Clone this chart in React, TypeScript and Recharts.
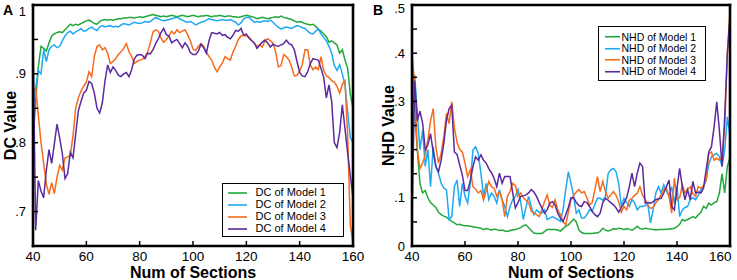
import React from 'react';
import { LineChart, Line, XAxis, YAxis, Legend } from 'recharts';

const FONT = 'Arial, "Liberation Sans", Helvetica, sans-serif';

const SECTIONS = Array.from({ length: 121 }, (_, i) => 40 + i);
const X_TICKS = [40, 60, 80, 100, 120, 140, 160];
const DC_TICKS = [0.7, 0.75, 0.8, 0.85, 0.9, 0.95, 1];
const NHD_TICKS = [0, 0.05, 0.1, 0.15, 0.2, 0.25, 0.3, 0.35, 0.4, 0.45, 0.5];

const DC_NAMES = ['DC of Model 1', 'DC of Model 2', 'DC of Model 3', 'DC of Model 4'];
const NHD_NAMES = ['NHD of Model 1', 'NHD of Model 2', 'NHD of Model 3', 'NHD of Model 4'];
const COLORS = ['#20a83c', '#1eaaf2', '#f76b1c', '#5b2a9e'];

const DC_MODEL1 = [
  0.80, 0.86, 0.91, 0.94, 0.937, 0.933, 0.945, 0.955, 0.958, 0.96,
  0.961, 0.96, 0.964, 0.968, 0.972, 0.97, 0.972, 0.971, 0.973, 0.975,
  0.977, 0.978, 0.976, 0.973, 0.972, 0.976, 0.978, 0.979, 0.978, 0.979,
  0.978, 0.979, 0.98, 0.98, 0.981, 0.981, 0.982, 0.982, 0.981, 0.982,
  0.983, 0.982, 0.983, 0.984, 0.985, 0.986, 0.985, 0.984, 0.983, 0.984,
  0.983, 0.984, 0.985, 0.984, 0.983, 0.984, 0.985, 0.984, 0.983, 0.984,
  0.985, 0.984, 0.983, 0.984, 0.984, 0.985, 0.984, 0.983, 0.984, 0.984,
  0.985, 0.984, 0.983, 0.984, 0.984, 0.983, 0.983, 0.982, 0.983, 0.984,
  0.985, 0.984, 0.983, 0.982, 0.98, 0.981, 0.982, 0.981, 0.98, 0.981,
  0.982, 0.983, 0.982, 0.984, 0.982, 0.981, 0.98, 0.979, 0.977, 0.975,
  0.976, 0.975, 0.973, 0.972, 0.971, 0.972, 0.969, 0.965, 0.962, 0.958,
  0.954, 0.946, 0.948, 0.945, 0.942, 0.93, 0.935, 0.92, 0.908, 0.87,
  0.85,
];
const DC_MODEL2 = [
  0.85, 0.88, 0.905, 0.9, 0.935, 0.918, 0.935, 0.94, 0.942, 0.938,
  0.94, 0.948, 0.955, 0.96, 0.962, 0.958, 0.961, 0.963, 0.966, 0.962,
  0.963, 0.966, 0.968, 0.965, 0.963, 0.968, 0.97, 0.968, 0.969, 0.97,
  0.968, 0.969, 0.968, 0.971, 0.973, 0.972, 0.971, 0.973, 0.975, 0.974,
  0.973, 0.974, 0.976, 0.975, 0.976, 0.979, 0.982, 0.98, 0.978, 0.977,
  0.978, 0.979, 0.98, 0.981, 0.982, 0.98, 0.978, 0.976, 0.975, 0.976,
  0.974, 0.971, 0.973, 0.975, 0.976, 0.978, 0.98, 0.979, 0.978, 0.977,
  0.978, 0.979, 0.978, 0.978, 0.979, 0.977, 0.975, 0.971, 0.974, 0.98,
  0.982, 0.982, 0.978, 0.975, 0.976, 0.975, 0.976, 0.977, 0.976, 0.978,
  0.975, 0.971, 0.968, 0.965, 0.967, 0.968, 0.967, 0.966, 0.968, 0.97,
  0.969, 0.967, 0.966, 0.962, 0.959, 0.958, 0.962, 0.965, 0.958, 0.953,
  0.948, 0.94, 0.93, 0.912, 0.905, 0.913, 0.9, 0.884, 0.845, 0.807,
  0.80,
];
const DC_MODEL3 = [
  0.874, 0.88, 0.84, 0.8, 0.77, 0.74, 0.725, 0.742, 0.726, 0.75,
  0.767, 0.76, 0.778, 0.779, 0.782, 0.81, 0.85, 0.865, 0.875, 0.882,
  0.888, 0.903, 0.896, 0.925, 0.94, 0.942, 0.935, 0.938, 0.93, 0.915,
  0.918, 0.922, 0.928, 0.932, 0.937, 0.944, 0.932, 0.925, 0.915, 0.918,
  0.92, 0.921, 0.925, 0.932, 0.945, 0.961, 0.964, 0.962, 0.952, 0.946,
  0.95, 0.955, 0.962, 0.958, 0.964, 0.96, 0.962, 0.964, 0.957, 0.948,
  0.936, 0.934, 0.94, 0.944, 0.94, 0.932, 0.925, 0.92, 0.91, 0.903,
  0.91, 0.916, 0.925, 0.922, 0.92, 0.932, 0.94, 0.95, 0.955, 0.956,
  0.955, 0.953, 0.949, 0.944, 0.94, 0.942, 0.939, 0.948, 0.951, 0.948,
  0.945, 0.932, 0.91, 0.912, 0.928, 0.925, 0.92, 0.91, 0.897, 0.898,
  0.904, 0.914, 0.935, 0.935, 0.913, 0.906, 0.91, 0.906, 0.925, 0.905,
  0.897, 0.895, 0.89, 0.888, 0.882, 0.872, 0.885, 0.89, 0.81, 0.68,
  0.655,
];
const DC_MODEL4 = [
  0.955, 0.673, 0.745, 0.73, 0.72, 0.76, 0.79, 0.77, 0.798, 0.827,
  0.807, 0.784, 0.748, 0.755, 0.786, 0.778, 0.812, 0.846, 0.86, 0.872,
  0.876, 0.889, 0.886, 0.872, 0.85, 0.843, 0.858, 0.89, 0.913, 0.902,
  0.91, 0.905, 0.898, 0.896, 0.9, 0.902, 0.896, 0.906, 0.922, 0.927,
  0.928, 0.927, 0.922, 0.93, 0.929, 0.935, 0.944, 0.951, 0.96, 0.966,
  0.957, 0.955, 0.945, 0.948, 0.95, 0.944, 0.938, 0.945, 0.94, 0.931,
  0.928, 0.928, 0.933, 0.943, 0.938, 0.93, 0.948, 0.96, 0.959, 0.958,
  0.96, 0.956, 0.957, 0.953, 0.951, 0.956, 0.963, 0.962, 0.966, 0.956,
  0.958, 0.952, 0.948, 0.945, 0.937, 0.942, 0.946, 0.949, 0.945, 0.939,
  0.943, 0.941, 0.94, 0.942, 0.944, 0.949, 0.944, 0.942, 0.935, 0.918,
  0.902, 0.897, 0.896, 0.903, 0.915, 0.922, 0.921, 0.92, 0.908, 0.895,
  0.865, 0.884, 0.86, 0.8, 0.793, 0.815, 0.855, 0.82, 0.785, 0.752,
  0.72,
];

const NHD_MODEL1 = [
  0.40, 0.28, 0.2, 0.13, 0.11, 0.115, 0.1, 0.09, 0.085, 0.08,
  0.07, 0.065, 0.062, 0.06, 0.055, 0.051, 0.048, 0.044, 0.045, 0.043,
  0.042, 0.042, 0.041, 0.04, 0.039, 0.038, 0.037, 0.034, 0.036, 0.035,
  0.033, 0.035, 0.034, 0.032, 0.033, 0.031, 0.03, 0.032, 0.033, 0.034,
  0.036, 0.038, 0.042, 0.044, 0.038, 0.032, 0.027, 0.026, 0.026, 0.026,
  0.03, 0.034, 0.034, 0.034, 0.034, 0.033, 0.031, 0.036, 0.041, 0.044,
  0.05, 0.056, 0.05, 0.033, 0.028, 0.026, 0.026, 0.026, 0.026, 0.027,
  0.027, 0.03, 0.037, 0.033, 0.031, 0.033, 0.036, 0.035, 0.037, 0.036,
  0.034, 0.036, 0.035, 0.033, 0.036, 0.041, 0.036, 0.035, 0.037, 0.036,
  0.035, 0.034, 0.033, 0.034, 0.034, 0.034, 0.035, 0.035, 0.036, 0.037,
  0.04, 0.045, 0.055, 0.052, 0.055, 0.058, 0.061, 0.058, 0.065, 0.07,
  0.082, 0.078, 0.089, 0.085, 0.09, 0.092, 0.11, 0.15, 0.11, 0.165,
  0.185,
];
const NHD_MODEL2 = [
  0.2, 0.355, 0.275, 0.2, 0.24, 0.165, 0.2, 0.123, 0.206, 0.165,
  0.151, 0.13, 0.12, 0.117, 0.055, 0.061, 0.123, 0.137, 0.082, 0.13,
  0.103, 0.089, 0.13, 0.199, 0.206, 0.192, 0.151, 0.103, 0.13, 0.096,
  0.11, 0.103, 0.089, 0.117, 0.096, 0.082, 0.061, 0.082, 0.096, 0.103,
  0.117, 0.092, 0.055, 0.08, 0.103, 0.082, 0.065, 0.075, 0.07, 0.068,
  0.075, 0.055, 0.058, 0.061, 0.058, 0.055, 0.051, 0.075, 0.117, 0.154,
  0.13, 0.103, 0.068, 0.075, 0.058, 0.058, 0.065, 0.075, 0.072, 0.086,
  0.099, 0.099, 0.095, 0.103, 0.15, 0.158, 0.161, 0.154, 0.13, 0.082,
  0.099, 0.09, 0.082, 0.096, 0.09, 0.075, 0.082, 0.082, 0.084, 0.086,
  0.048, 0.075, 0.11, 0.123, 0.11, 0.127, 0.115, 0.103, 0.123, 0.089,
  0.123, 0.061, 0.075, 0.08, 0.082, 0.096, 0.1, 0.096, 0.105, 0.117,
  0.123, 0.137, 0.17, 0.185, 0.19, 0.192, 0.185, 0.165, 0.2, 0.268,
  0.226,
];
const NHD_MODEL3 = [
  0.398, 0.336, 0.2, 0.161, 0.172, 0.189, 0.22, 0.26, 0.285, 0.206,
  0.172, 0.192, 0.226, 0.275, 0.254, 0.299, 0.245, 0.215, 0.2, 0.195,
  0.172, 0.144, 0.158, 0.123, 0.118, 0.11, 0.115, 0.095, 0.115, 0.134,
  0.123, 0.12, 0.103, 0.113, 0.096, 0.061, 0.103, 0.113, 0.13, 0.125,
  0.103, 0.11, 0.1, 0.095, 0.09, 0.072, 0.068, 0.065, 0.061, 0.075,
  0.092, 0.106, 0.085, 0.08, 0.096, 0.075, 0.065, 0.05, 0.044, 0.07,
  0.095, 0.105, 0.112, 0.117, 0.11, 0.113, 0.1, 0.085, 0.09, 0.117,
  0.144, 0.113, 0.134, 0.113, 0.099, 0.106, 0.113, 0.105, 0.092, 0.07,
  0.082, 0.075, 0.095, 0.099, 0.105, 0.11, 0.123, 0.105, 0.096, 0.085,
  0.078, 0.08, 0.09, 0.096, 0.106, 0.118, 0.12, 0.103, 0.068, 0.141,
  0.096, 0.1, 0.127, 0.11, 0.118, 0.123, 0.108, 0.103, 0.123, 0.12,
  0.125, 0.137, 0.192, 0.195, 0.178, 0.182, 0.178, 0.185, 0.247, 0.4,
  0.49,
];
const NHD_MODEL4 = [
  0.05, 0.343, 0.26, 0.28, 0.255, 0.2, 0.21, 0.233, 0.195, 0.165,
  0.154, 0.178, 0.213, 0.26, 0.285, 0.292, 0.195, 0.19, 0.168, 0.147,
  0.115, 0.115, 0.135, 0.165, 0.185, 0.178, 0.189, 0.178, 0.172, 0.16,
  0.152, 0.14, 0.123, 0.151, 0.13, 0.144, 0.144, 0.144, 0.11, 0.079,
  0.09, 0.103, 0.104, 0.106, 0.11, 0.117, 0.112, 0.103, 0.09, 0.079,
  0.068, 0.075, 0.089, 0.092, 0.085, 0.068, 0.058, 0.051, 0.065, 0.08,
  0.1, 0.1, 0.09, 0.084, 0.082, 0.092, 0.09, 0.082, 0.072, 0.065,
  0.061, 0.068, 0.09, 0.099, 0.095, 0.09, 0.086, 0.079, 0.07, 0.08,
  0.089, 0.1, 0.123, 0.151, 0.123, 0.151, 0.172, 0.165, 0.089, 0.09,
  0.089, 0.092, 0.096, 0.098, 0.099, 0.11, 0.123, 0.137, 0.082, 0.075,
  0.12, 0.161, 0.123, 0.096, 0.117, 0.096, 0.134, 0.11, 0.112, 0.11,
  0.12, 0.158, 0.195, 0.206, 0.247, 0.299, 0.24, 0.165, 0.268, 0.4,
  0.474,
];

const DC_DATA = SECTIONS.map((s, i) => ({
  section: s,
  m1: DC_MODEL1[i],
  m2: DC_MODEL2[i],
  m3: DC_MODEL3[i],
  m4: DC_MODEL4[i],
}));
const NHD_DATA = SECTIONS.map((s, i) => ({
  section: s,
  m1: NHD_MODEL1[i],
  m2: NHD_MODEL2[i],
  m3: NHD_MODEL3[i],
  m4: NHD_MODEL4[i],
}));

const fmtTick = (v: number) => {
  const t = Math.round(v * 100);
  if (t % 10 !== 0) return '';
  if (t === 100) return '1';
  if (t === 0) return '0';
  return '.' + t / 10;
};

const FRAME = { stroke: '#000', strokeWidth: 2.6, strokeLinecap: 'square' as const };
const TICKLINE = { stroke: '#000', strokeWidth: 1.5 };

type LegendCfg = {
  left: number;
  top: number;
  width: number;
  height: number;
  padTop: number;
  rowH: number;
  sampleStart: number;
  sampleLen: number;
  gap: number;
  fontSize: number;
};

const makeLegend = (cfg: LegendCfg) => (props: any) => {
  const payload = props.payload || [];
  return (
    <div
      style={{
        boxSizing: 'border-box',
        width: cfg.width,
        height: cfg.height,
        border: '1.5px solid #000',
        background: '#fff',
        paddingTop: cfg.padTop,
      }}
    >
      {payload.map((p: any) => (
        <div
          key={p.value}
          style={{
            display: 'flex',
            alignItems: 'center',
            height: cfg.rowH,
            fontFamily: FONT,
            fontSize: cfg.fontSize,
            color: '#000',
            whiteSpace: 'nowrap',
            lineHeight: 1,
          }}
        >
          <svg width={cfg.sampleStart + cfg.sampleLen} height={cfg.rowH} style={{ flex: 'none', display: 'block' }}>
            <line
              x1={cfg.sampleStart}
              x2={cfg.sampleStart + cfg.sampleLen}
              y1={cfg.rowH / 2}
              y2={cfg.rowH / 2}
              stroke={p.color}
              strokeWidth={1.6}
            />
          </svg>
          <span style={{ marginLeft: cfg.gap }}>{p.value}</span>
        </div>
      ))}
    </div>
  );
};

const makeYLabel = (text: string, baselineX: number) => (props: any) => {
  const vb = props.viewBox || {};
  const x = (vb.x || 0) + baselineX;
  const y = (vb.y || 0) + (vb.height || 0) / 2;
  return (
    <text
      x={x}
      y={y}
      transform={`rotate(-90, ${x}, ${y})`}
      textAnchor="middle"
      fontFamily={FONT}
      fontWeight="bold"
      fontSize={16}
      fill="#000"
    >
      {text}
    </text>
  );
};

const makeXLabel = (text: string) => (props: any) => {
  const vb = props.viewBox || {};
  const x = (vb.x || 0) + (vb.width || 0) / 2;
  const y = (vb.y || 0) + 31.5;
  return (
    <text x={x} y={y} textAnchor="middle" fontFamily={FONT} fontWeight="bold" fontSize={16} fill="#000">
      {text}
    </text>
  );
};

const makeXTick = (endAnchorValue: number | null) => (props: any) => {
  const { x, y, payload } = props;
  const isEnd = endAnchorValue !== null && payload.value === endAnchorValue;
  return (
    <text
      x={isEnd ? x + 1.5 : x}
      y={y}
      dy="0.71em"
      textAnchor={isEnd ? 'end' : 'middle'}
      fontFamily={FONT}
      fontSize={13.5}
      fill="#000"
    >
      {payload.value}
    </text>
  );
};

const makeYTick = (topValue: number, topShift: number) => (props: any) => {
  const { x, y, payload } = props;
  const label = fmtTick(payload.value);
  if (!label) return <g />;
  const shift = Math.abs(payload.value - topValue) < 1e-9 ? topShift : 0;
  return (
    <text x={x} y={y + shift} dy="0.355em" textAnchor="end" fontFamily={FONT} fontSize={13} fill="#000">
      {label}
    </text>
  );
};

type PanelProps = {
  data: any[];
  names: string[];
  yDomain: [number, number];
  yTicks: number[];
  yLabel: string;
  yLabelBaseline: number;
  topShift: number;
  width: number;
  yAxisWidth: number;
  marginRight: number;
  legend: LegendCfg;
  endAnchorValue: number | null;
};

const Panel = (p: PanelProps) => (
  <LineChart
    width={p.width}
    height={280}
    data={p.data}
    margin={{ top: 4, right: p.marginRight, bottom: 0, left: 0 }}
  >
    <XAxis
      xAxisId="b"
      dataKey="section"
      type="number"
      domain={[40, 160]}
      ticks={X_TICKS}
      interval={0}
      allowDataOverflow
      height={34}
      axisLine={FRAME}
      tickLine={TICKLINE}
      tickSize={-5}
      tickMargin={10.5}
      tick={makeXTick(p.endAnchorValue)}
      label={makeXLabel('Num of Sections')}
    />
    <XAxis
      xAxisId="t"
      orientation="top"
      type="number"
      domain={[40, 160]}
      ticks={X_TICKS}
      interval={0}
      allowDataOverflow
      height={1}
      axisLine={FRAME}
      tickLine={TICKLINE}
      tickSize={-5}
      tick={false}
    />
    <YAxis
      yAxisId="l"
      type="number"
      domain={p.yDomain}
      ticks={p.yTicks}
      interval={0}
      allowDataOverflow
      width={p.yAxisWidth}
      axisLine={FRAME}
      tickLine={TICKLINE}
      tickSize={-5}
      tickMargin={12}
      tick={makeYTick(p.yDomain[1], p.topShift)}
      label={makeYLabel(p.yLabel, p.yLabelBaseline)}
    />
    <YAxis
      yAxisId="r"
      orientation="right"
      type="number"
      domain={p.yDomain}
      ticks={p.yTicks}
      interval={0}
      allowDataOverflow
      width={1}
      axisLine={FRAME}
      tickLine={TICKLINE}
      tickSize={-5}
      tick={false}
    />
    <Legend
      layout="vertical"
      align="center"
      verticalAlign="middle"
      content={makeLegend(p.legend)}
      wrapperStyle={{ left: p.legend.left, top: p.legend.top, width: p.legend.width, height: p.legend.height }}
    />
    {['m1', 'm2', 'm3', 'm4'].map((k, i) => (
      <Line
        key={k}
        xAxisId="b"
        yAxisId="l"
        type="linear"
        dataKey={k}
        name={p.names[i]}
        stroke={COLORS[i]}
        strokeWidth={1.5}
        dot={false}
        activeDot={false}
        isAnimationActive={false}
      />
    ))}
  </LineChart>
);

const LEGEND_A: LegendCfg = {
  left: 222,
  top: 183,
  width: 122,
  height: 54,
  padTop: 2.5,
  rowH: 12,
  sampleStart: 5,
  sampleLen: 19,
  gap: 8.5,
  fontSize: 11,
};
const LEGEND_B: LegendCfg = {
  left: 228,
  top: 26,
  width: 108,
  height: 55,
  padTop: 4,
  rowH: 11.5,
  sampleStart: 6,
  sampleLen: 15,
  gap: 1.5,
  fontSize: 10.5,
};

export default function App() {
  return (
    <div style={{ position: 'absolute', left: 0, top: 0, width: 737, height: 280, background: '#fff', overflow: 'hidden' }}>
      <div style={{ position: 'absolute', left: 0, top: 0 }}>
        <Panel
          data={DC_DATA}
          names={DC_NAMES}
          yDomain={[0.65, 1]}
          yTicks={DC_TICKS}
          yLabel="DC Value"
          yLabelBaseline={16}
          topShift={6}
          width={370}
          yAxisWidth={33}
          marginRight={16}
          legend={LEGEND_A}
          endAnchorValue={null}
        />
      </div>
      <div style={{ position: 'absolute', left: 370, top: 0 }}>
        <Panel
          data={NHD_DATA}
          names={NHD_NAMES}
          yDomain={[0, 0.5]}
          yTicks={NHD_TICKS}
          yLabel="NHD Value"
          yLabelBaseline={24}
          topShift={3.5}
          width={367}
          yAxisWidth={42}
          marginRight={6}
          legend={LEGEND_B}
          endAnchorValue={160}
        />
      </div>
      <svg width={737} height={280} style={{ position: 'absolute', left: 0, top: 0, pointerEvents: 'none' }}>
        <text x={3} y={15} fontFamily={FONT} fontWeight="bold" fontSize={14} fill="#000">A</text>
        <text x={373} y={15} fontFamily={FONT} fontWeight="bold" fontSize={14} fill="#000">B</text>
      </svg>
    </div>
  );
}
